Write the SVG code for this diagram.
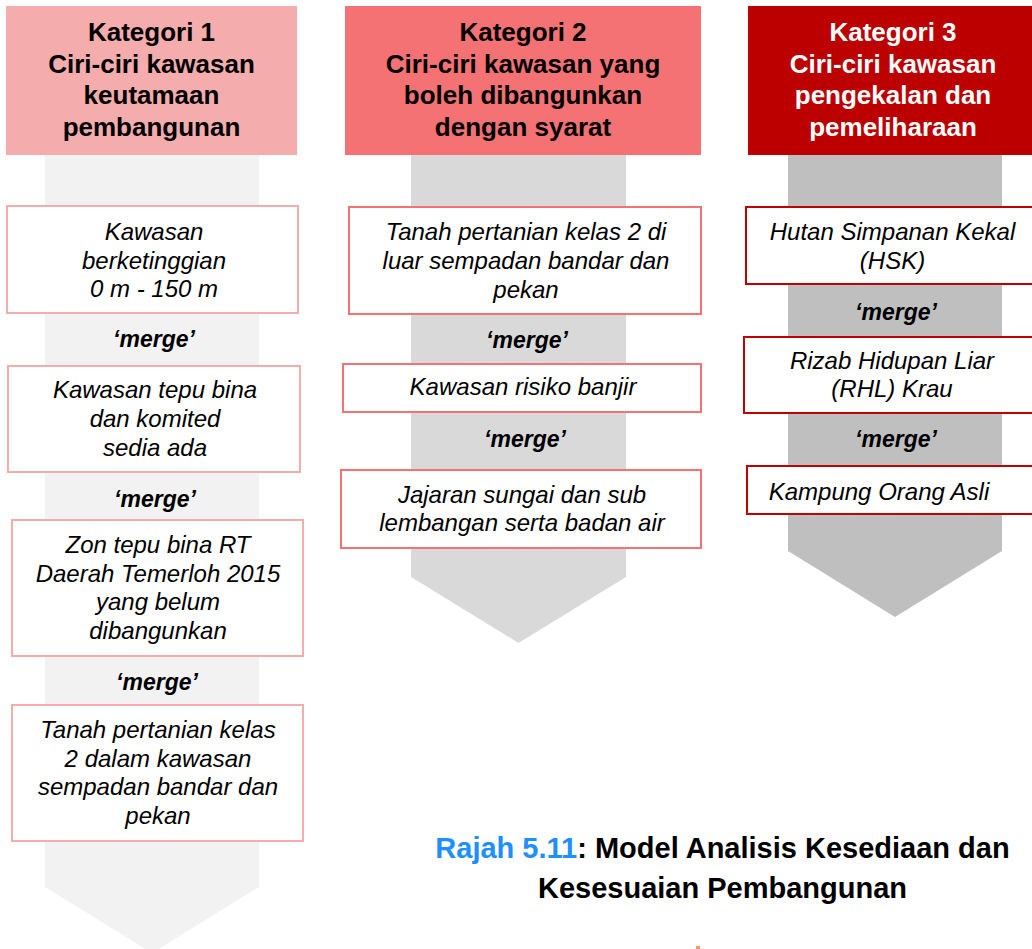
<svg xmlns="http://www.w3.org/2000/svg" width="1032" height="949" viewBox="0 0 1032 949">
  <style>
    .hdr { font-family: "Liberation Sans", Arial, sans-serif; font-size: 26px; font-weight: bold; text-anchor: middle; }
    .body { font-family: "Liberation Sans", Arial, sans-serif; font-size: 24px; font-style: italic; text-anchor: middle; fill: #000; }
    .merge { font-family: "Liberation Sans", Arial, sans-serif; font-size: 23px; font-style: italic; font-weight: bold; text-anchor: middle; fill: #000; }
    .title { font-family: "Liberation Sans", Arial, sans-serif; font-size: 29px; font-weight: bold; text-anchor: middle; fill: #000; }
    .box1 { fill: #fff; stroke: #F4ACAC; stroke-width: 2; }
    .box2 { fill: #fff; stroke: #F47174; stroke-width: 2; }
    .box3 { fill: #fff; stroke: #C00000; stroke-width: 2; }
  </style>
  <rect width="1032" height="949" fill="#fff"/>

  <!-- down arrows behind each column -->
  <g id="arrows">
    <polygon points="45,155 259,155 259,887 152,953 45,887" fill="#F2F2F2"/>
    <polygon points="411,155 626,155 626,577 518.5,643 411,577" fill="#D9D9D9"/>
    <polygon points="788,155 1002,155 1002,551 895,617 788,551" fill="#BFBFBF"/>
  </g>

  <!-- column 1 -->
  <g id="kategori1">
    <rect x="6" y="6" width="291" height="149" fill="#F4ACAC"/>
    <text class="hdr" x="151.5" fill="#000"><tspan x="151.5" y="41">Kategori 1</tspan><tspan x="151.5" y="72.5">Ciri-ciri kawasan</tspan><tspan x="151.5" y="104">keutamaan</tspan><tspan x="151.5" y="135.5">pembangunan</tspan></text>
  </g>
  <g id="k1-a">
    <rect class="box1" x="7" y="206" width="291" height="107"/>
    <text class="body"><tspan x="154" y="240">Kawasan</tspan><tspan x="154" y="268.5">berketinggian</tspan><tspan x="154" y="297">0 m - 150 m</tspan></text>
  </g>
  <text class="merge" x="154" y="347">‘merge’</text>
  <g id="k1-b">
    <rect class="box1" x="8" y="366" width="292" height="106"/>
    <text class="body"><tspan x="155" y="398">Kawasan tepu bina</tspan><tspan x="155" y="427">dan komited</tspan><tspan x="155" y="456">sedia ada</tspan></text>
  </g>
  <text class="merge" x="155" y="507">‘merge’</text>
  <g id="k1-c">
    <rect class="box1" x="12" y="520" width="291" height="136"/>
    <text class="body"><tspan x="158" y="553">Zon tepu bina RT</tspan><tspan x="158" y="582">Daerah Temerloh 2015</tspan><tspan x="158" y="610">yang belum</tspan><tspan x="158" y="638.5">dibangunkan</tspan></text>
  </g>
  <text class="merge" x="157" y="690">‘merge’</text>
  <g id="k1-d">
    <rect class="box1" x="12" y="705" width="291" height="136"/>
    <text class="body"><tspan x="158" y="737.5">Tanah pertanian kelas</tspan><tspan x="158" y="766.5">2 dalam kawasan</tspan><tspan x="158" y="795">sempadan bandar dan</tspan><tspan x="158" y="823.5">pekan</tspan></text>
  </g>

  <!-- column 2 -->
  <g id="kategori2">
    <rect x="345" y="6" width="356" height="149" fill="#F47174"/>
    <text class="hdr" fill="#000"><tspan x="523" y="41">Kategori 2</tspan><tspan x="523" y="72.5">Ciri-ciri kawasan yang</tspan><tspan x="523" y="104">boleh dibangunkan</tspan><tspan x="523" y="135.5">dengan syarat</tspan></text>
  </g>
  <g id="k2-a">
    <rect class="box2" x="349" y="207" width="352" height="107"/>
    <text class="body"><tspan x="526" y="240">Tanah pertanian kelas 2 di</tspan><tspan x="526" y="269">luar sempadan bandar dan</tspan><tspan x="526" y="298">pekan</tspan></text>
  </g>
  <text class="merge" x="527" y="348">‘merge’</text>
  <g id="k2-b">
    <rect class="box2" x="343" y="364" width="358" height="48"/>
    <text class="body" x="523" y="395">Kawasan risiko banjir</text>
  </g>
  <text class="merge" x="525" y="447">‘merge’</text>
  <g id="k2-c">
    <rect class="box2" x="341" y="470" width="360" height="78"/>
    <text class="body"><tspan x="522" y="502.5">Jajaran sungai dan sub</tspan><tspan x="522" y="530.5">lembangan serta badan air</tspan></text>
  </g>

  <!-- column 3 -->
  <g id="kategori3">
    <rect x="748" y="6" width="290" height="149" fill="#BC0000"/>
    <text class="hdr" fill="#fff"><tspan x="893" y="41">Kategori 3</tspan><tspan x="893" y="72.5">Ciri-ciri kawasan</tspan><tspan x="893" y="104">pengekalan dan</tspan><tspan x="893" y="135.5">pemeliharaan</tspan></text>
  </g>
  <g id="k3-a">
    <rect class="box3" x="746" y="207" width="296" height="77"/>
    <text class="body"><tspan x="892.5" y="240">Hutan Simpanan Kekal</tspan><tspan x="892.5" y="268.5">(HSK)</tspan></text>
  </g>
  <text class="merge" x="896" y="320">‘merge’</text>
  <g id="k3-b">
    <rect class="box3" x="744" y="337" width="298" height="76"/>
    <text class="body"><tspan x="892" y="368.5">Rizab Hidupan Liar</tspan><tspan x="892" y="397">(RHL) Krau</tspan></text>
  </g>
  <text class="merge" x="896" y="447">‘merge’</text>
  <g id="k3-c">
    <rect class="box3" x="747" y="466" width="295" height="48"/>
    <text class="body" x="879" y="500">Kampung Orang Asli</text>
  </g>

  <!-- caption -->
  <text class="title" x="722.5" y="858"><tspan fill="#1E8FFF">Rajah 5.11</tspan>: Model Analisis Kesediaan dan</text>
  <text class="title" x="722.5" y="898">Kesesuaian Pembangunan</text>
  <rect x="696" y="946" width="4" height="3" fill="#F59A5A"/>
</svg>
